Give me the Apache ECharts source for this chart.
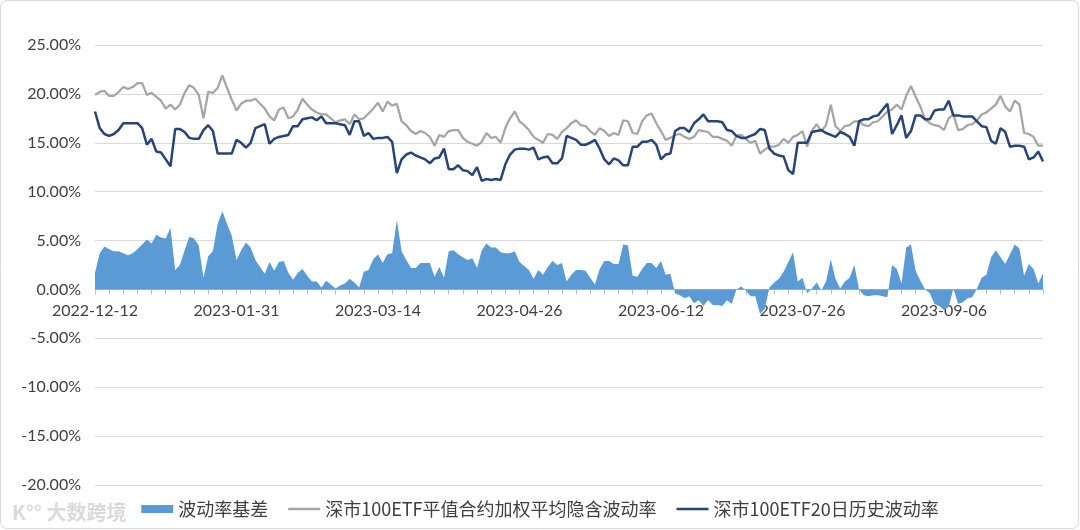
<!DOCTYPE html>
<html>
<head>
<meta charset="utf-8">
<script src="https://cdn.jsdelivr.net/npm/echarts@6/dist/echarts.min.js"></script>
<style>
html,body{margin:0;padding:0;background:#fff;}
#chart{width:1080px;height:530px;}
</style>
</head>
<body>
<div id="chart"></div>
<script>
// ---- trading-day categories (2022-12-12 .. 2023-10-13, SZSE calendar) ----
const startDate = '2022-12-12';
const endDate = '2023-10-13';
const holidays = ['2023-01-02','2023-01-23','2023-01-24','2023-01-25','2023-01-26','2023-01-27',
  '2023-04-05','2023-05-01','2023-05-02','2023-05-03','2023-06-22','2023-06-23',
  '2023-09-29','2023-10-02','2023-10-03','2023-10-04','2023-10-05','2023-10-06'];

// 深市100ETF平值合约加权平均隐含波动率 (%)
const impliedVol = [
19.9,20.2,20.3,19.8,19.8,20.2,20.7,20.5,20.7,21.1,
21.1,19.9,20.1,19.7,19.3,18.5,18.9,18.4,18.9,20.1,
20.9,20.6,19.9,17.5,20.2,20.1,20.6,21.9,20.6,19.4,
18.3,19.0,19.3,19.3,19.5,19.0,18.5,17.7,17.3,18.4,
18.6,17.5,17.7,18.4,19.5,18.9,18.4,18.1,17.9,17.9,
17.5,17.1,17.3,17.4,16.9,17.9,17.4,17.5,18.0,18.5,
19.1,18.2,19.2,18.8,19.0,17.2,16.8,16.2,15.9,16.2,
16.0,15.6,14.7,15.8,15.6,16.2,16.3,16.3,15.5,15.1,
14.9,14.7,15.1,16.0,15.5,15.6,15.0,16.5,17.5,18.2,
17.2,16.8,16.3,15.6,15.3,15.0,15.9,15.8,15.4,16.1,
16.5,17.0,17.3,16.8,16.7,16.2,15.8,16.5,16.2,15.7,
16.0,15.8,17.3,17.2,16.0,15.9,17.2,17.8,18.0,17.0,
16.2,15.3,15.5,15.8,15.9,15.6,15.4,15.6,16.3,16.2,
16.1,15.6,15.6,15.4,15.2,14.7,15.7,15.8,15.4,15.0,
15.2,13.9,14.3,14.6,14.6,14.8,15.4,15.0,15.6,15.8,
16.2,14.6,16.2,16.9,16.2,16.8,18.9,16.7,16.2,16.7,
16.8,17.2,17.2,16.8,16.7,17.1,17.2,17.7,18.2,18.4,
18.9,18.4,19.8,20.8,19.7,18.7,17.4,17.0,16.8,16.7,
16.3,17.5,17.9,16.3,16.4,16.8,16.9,17.3,17.9,18.1,
18.5,18.9,19.8,18.7,18.2,19.3,18.9,16.0,15.9,15.6,
14.7,14.7
];

// 深市100ETF20日历史波动率 (%)
const historicalVol = [
18.2,16.5,15.9,15.7,15.9,16.3,17.0,17.0,17.0,17.0,
16.5,14.8,15.4,14.1,14.0,13.3,12.6,16.4,16.4,16.1,
15.5,15.4,15.4,16.3,16.8,16.2,13.9,13.9,13.9,13.9,
15.3,15.0,14.5,15.0,16.5,16.7,16.9,14.9,15.4,15.6,
15.7,15.8,16.7,16.7,17.4,17.5,17.6,17.3,17.7,17.0,
17.0,17.0,16.9,16.8,15.8,17.2,17.2,15.7,16.0,15.4,
15.5,15.5,15.6,15.1,11.9,13.3,13.8,14.0,13.7,13.5,
13.3,12.9,13.4,13.5,14.4,12.3,12.3,12.7,12.2,12.1,
11.7,12.5,11.1,11.3,11.2,11.3,11.2,12.8,13.8,14.3,
14.4,14.4,14.3,14.5,13.3,13.5,13.6,12.9,12.9,13.4,
15.7,15.5,15.3,14.8,14.8,15.0,15.3,14.4,13.3,12.8,
13.4,13.2,12.7,12.7,14.6,14.6,15.1,15.1,15.3,14.8,
13.3,13.8,13.9,16.2,16.5,16.5,16.1,17.0,17.4,17.9,
17.2,17.2,17.2,17.1,16.3,16.2,15.7,15.5,15.5,15.7,
15.9,16.4,16.3,14.4,13.9,13.7,13.6,12.2,11.8,15.0,
15.0,15.0,16.1,16.2,16.3,16.0,15.8,15.6,16.1,15.9,
15.6,14.7,17.2,17.4,17.4,17.7,17.8,18.4,19.0,15.9,
16.8,17.8,15.5,16.2,17.8,17.8,17.4,17.4,18.3,18.4,
18.4,19.3,17.8,17.8,17.7,17.7,17.7,17.2,16.7,16.6,
15.2,14.9,16.5,16.1,14.6,14.7,14.7,14.6,13.3,13.5,
14.1,13.1
];

// 波动率基差 (%)
const volBasis = [
1.7,3.7,4.4,4.1,3.9,3.9,3.7,3.5,3.7,4.1,
4.6,5.1,4.7,5.6,5.3,5.2,6.3,2.0,2.5,4.0,
5.4,5.2,4.5,1.2,3.4,3.9,6.7,8.0,6.7,5.5,
3.0,4.0,4.8,4.3,3.0,2.3,1.6,2.8,1.9,2.8,
2.9,1.7,1.0,1.7,2.1,1.4,0.8,0.8,0.2,0.9,
0.5,0.1,0.4,0.6,1.1,0.7,0.2,1.8,2.0,3.1,
3.6,2.7,3.6,3.7,7.1,3.9,3.0,2.2,2.2,2.7,
2.7,2.7,1.3,2.3,1.2,3.9,4.0,3.6,3.3,3.0,
3.2,2.2,4.0,4.7,4.3,4.3,3.8,3.7,3.7,3.9,
2.8,2.4,2.0,1.1,2.0,1.5,2.3,2.9,2.5,2.7,
0.8,1.5,2.0,2.0,1.9,1.2,0.5,2.1,2.9,2.9,
2.6,2.6,4.6,4.5,1.4,1.3,2.1,2.7,2.7,2.2,
2.9,1.5,1.6,-0.4,-0.6,-0.9,-0.7,-1.4,-1.1,-1.7,
-1.1,-1.6,-1.6,-1.7,-1.1,-1.5,0.0,0.3,-0.1,-0.7,
-0.7,-2.5,-2.0,0.2,0.7,1.1,1.8,2.8,3.8,0.8,
1.2,-0.4,0.1,0.7,-0.1,0.8,3.1,1.1,0.1,0.8,
1.2,2.5,0.0,-0.6,-0.7,-0.6,-0.6,-0.7,-0.8,2.5,
2.1,0.6,4.3,4.6,1.9,0.9,0.0,-0.4,-1.5,-1.7,
-2.1,-1.8,0.1,-1.5,-1.3,-0.9,-0.8,0.1,1.2,1.5,
3.3,4.0,3.3,2.6,3.6,4.6,4.2,1.4,2.6,2.1,
0.6,1.6
];

const yTicks = { min: -20, max: 25, step: 5 };
const seriesNames = ['波动率基差', '深市100ETF平值合约加权平均隐含波动率', '深市100ETF20日历史波动率'];

function buildTradingDays(s, e, hol) {
  const out = [];
  const hs = new Set(hol);
  const d = new Date(s + 'T00:00:00Z');
  const end = new Date(e + 'T00:00:00Z');
  while (d <= end) {
    const wd = d.getUTCDay();
    const str = d.toISOString().slice(0, 10);
    if (wd !== 0 && wd !== 6 && !hs.has(str)) out.push(str);
    d.setUTCDate(d.getUTCDate() + 1);
  }
  return out;
}
const categories = buildTradingDays(startDate, endDate, holidays);

const GRID = { left: 95, right: 37, top: 45, bottom: 45 };
const plotH = 530 - GRID.top - GRID.bottom;
// distance from bottom of plot to the zero line, so the category axis sits on 0
const zeroOffset = plotH * (0 - yTicks.min) / (yTicks.max - yTicks.min);

const FONT = 'Lato, "Noto Sans CJK SC", sans-serif';
const LINE_ICON = 'path://M0,0L40,0L40,3L0,3Z';
const chart = echarts.init(document.getElementById('chart'), null, { renderer: 'canvas' });
chart.setOption({
  animation: false,
  backgroundColor: '#ffffff',
  textStyle: { fontFamily: FONT },
  grid: { left: GRID.left, right: GRID.right, top: GRID.top, bottom: GRID.bottom, containLabel: false },
  legend: {
    bottom: 7,
    left: 'center',
    itemWidth: 32,
    itemHeight: 8,
    itemGap: 20,
    textStyle: { color: '#404040', fontSize: 18, fontFamily: '"Noto Sans CJK SC", sans-serif' },
    data: [
      { name: seriesNames[0], icon: 'rect' },
      { name: seriesNames[1], icon: LINE_ICON },
      { name: seriesNames[2], icon: LINE_ICON }
    ]
  },
  xAxis: {
    type: 'category',
    data: categories,
    boundaryGap: false,
    position: 'bottom',
    offset: -zeroOffset,
    axisLine: { onZero: false, lineStyle: { color: '#bfbfbf', width: 1 } },
    axisTick: { show: true, interval: 2, length: 5, lineStyle: { color: '#bfbfbf' } },
    axisLabel: { interval: 29, color: '#404040', fontSize: 16, margin: 13, fontFamily: FONT },
    splitLine: { show: false }
  },
  yAxis: {
    type: 'value',
    min: yTicks.min,
    max: yTicks.max,
    interval: yTicks.step,
    axisLine: { show: false },
    axisTick: { show: false },
    axisLabel: {
      color: '#404040', fontSize: 16, margin: 14, fontFamily: FONT,
      formatter: v => v.toFixed(2) + '%'
    },
    splitLine: { lineStyle: { color: '#d9d9d9', width: 1 } }
  },
  series: [
    {
      name: seriesNames[0],
      type: 'line',
      data: volBasis,
      symbol: 'none',
      lineStyle: { width: 0 },
      itemStyle: { color: '#5b9bd5' },
      areaStyle: { color: '#5b9bd5', opacity: 1 },
      z: 1
    },
    {
      name: seriesNames[1],
      type: 'line',
      data: impliedVol,
      symbol: 'none',
      itemStyle: { color: '#a5a5a5' },
      lineStyle: { color: '#a5a5a5', width: 2.25 },
      z: 2
    },
    {
      name: seriesNames[2],
      type: 'line',
      data: historicalVol,
      symbol: 'none',
      itemStyle: { color: '#264478' },
      lineStyle: { color: '#264478', width: 2.5 },
      z: 3
    }
  ],
  graphic: [
    {
      type: 'rect', silent: true, z: 100,
      shape: { x: 0.5, y: 0.5, width: 1078, height: 528, r: 6 },
      style: { fill: 'none', stroke: '#d9d9d9', lineWidth: 1 }
    },
    {
      type: 'text', silent: true, z: 50, left: 12, bottom: 8,
      style: { text: 'K°° 大数跨境', fill: '#dadada', fontSize: 20, fontWeight: 'bold', fontFamily: '"Noto Sans CJK SC", sans-serif' }
    }
  ]
});
</script>
</body>
</html>
